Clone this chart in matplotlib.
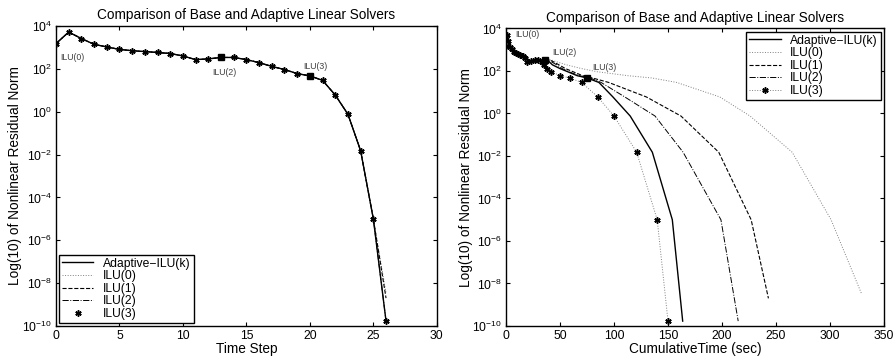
import matplotlib
matplotlib.use('Agg')
import matplotlib.pyplot as plt
from matplotlib.ticker import LogLocator, NullLocator

plt.rcParams['font.family'] = ['Liberation Sans', 'DejaVu Sans']
plt.rcParams['mathtext.default'] = 'regular'

# residual norm at each time step (shared by all solvers until the last step)
steps = list(range(27))
resid = [1500, 5200, 2600, 1400, 1050, 810, 700, 640, 580, 520, 400, 270, 290,
         340, 340, 270, 195, 130, 93, 60, 47, 29, 6, 0.76, 0.015, 1e-5]
final_adaptive = 1.7e-10
final_ilu0 = 3.5e-9
final_ilu1 = 2e-9
final_ilu2 = 1.7e-10
final_ilu3 = 1.7e-10

# cumulative time (sec) per time step
time_adaptive = [0, 1, 2.2, 3.7, 5.9, 8.3, 10.5, 13, 15, 17.6, 19.8, 22, 28.4, 36,
                 38, 40, 43, 50, 57, 66, 75, 86, 99, 115, 135.5, 154, 163.6]
time_ilu0 = [0, 1, 2.2, 3.7, 5.9, 8.3, 10.5, 13, 15, 17.6, 19.8, 22, 28.4, 36,
             41, 47, 56, 70, 84, 113, 135, 158, 198, 226, 265, 301, 329]
time_ilu1 = [0, 1, 2.3, 3.9, 6.1, 8.5, 10.8, 13.3, 15.5, 18, 20.5, 23, 29, 36,
             40, 44, 49, 55, 62, 71, 80, 95, 130, 162, 197, 227, 243]
time_ilu2 = [0, 1, 2.3, 3.8, 6.0, 8.2, 10.4, 12.8, 15, 17.2, 19.5, 21.5, 27.5, 34,
             38, 42, 47, 52, 58, 68, 78, 88, 110, 138, 164, 199, 215]
time_ilu3 = [0, 0.9, 2.0, 3.4, 5.3, 7.3, 9.3, 11.4, 13.3, 15.3, 17.2, 19, 23, 27,
             30, 33, 35.5, 38, 42, 50, 59, 70, 85, 100, 121, 140, 150]

# steps where the adaptive solver switches preconditioner
switch_steps = [13, 20]
switch_labels = ['ILU(2)', 'ILU(3)']

y_adaptive = resid + [final_adaptive]
y_ilu0 = resid + [final_ilu0]
y_ilu1 = resid + [final_ilu1]
y_ilu2 = resid + [final_ilu2]
y_ilu3 = resid + [final_ilu3]

TITLE = 'Comparison of Base and Adaptive Linear Solvers'
YLABEL = 'Log(10) of Nonlinear Residual Norm'
LABELS = ['Adaptive\u2212ILU(k)', 'ILU(0)', 'ILU(1)', 'ILU(2)', 'ILU(3)']
STAR = (6, 2, 0)  # matlab-like asterisk


def style_axes(ax, xmax, xstep):
    ax.set_yscale('log')
    ax.set_ylim(1e-10, 1e4)
    ax.set_xlim(0, xmax)
    ax.set_xticks(range(0, xmax + 1, xstep))
    ax.yaxis.set_major_locator(LogLocator(base=100.0, numticks=20))
    ax.yaxis.set_minor_locator(NullLocator())
    ax.tick_params(direction='in', top=True, right=True, labelsize=8.7,
                   length=3, width=0.8, pad=3)
    for s in ax.spines.values():
        s.set_linewidth(1.0)
    ax.set_title(TITLE, fontsize=9.8, pad=5)
    ax.set_ylabel(YLABEL, fontsize=9.8)
    ax.yaxis.set_label_coords(-0.088, 0.5)


def add_legend(ax, loc):
    h, l = ax.get_legend_handles_labels()
    order = [4, 0, 1, 2, 3]
    leg = ax.legend([h[i] for i in order], [l[i] for i in order], loc=loc,
                    fontsize=8.7, fancybox=False, edgecolor='black', framealpha=1,
                    handlelength=2.6, borderpad=0.25, labelspacing=0.05,
                    borderaxespad=0.25, handletextpad=0.8)
    leg.get_frame().set_linewidth(1.0)


fig = plt.figure(figsize=(8.94, 3.58), dpi=100)
ax1 = fig.add_axes([0.0626, 0.0894, 0.426, 0.838])
ax2 = fig.add_axes([0.566, 0.0894, 0.4228, 0.831])

# left: by time step
ax1.plot(steps, y_ilu0, ls=':', color='0.5', lw=0.7, label=LABELS[1])
ax1.plot(steps, y_ilu1, ls='--', color='black', lw=0.8, label=LABELS[2])
ax1.plot(steps, y_ilu2, ls='-.', color='black', lw=0.7, label=LABELS[3])
ax1.plot(steps, y_ilu3, ls='none', marker=STAR, color='black', ms=4.5, mew=1.1,
         label=LABELS[4])
ax1.plot(steps, y_adaptive, ls='-', color='black', lw=1.0, label=LABELS[0])
ax1.plot([steps[i] for i in switch_steps], [y_adaptive[i] for i in switch_steps],
         ls='none', marker='s', color='black', ms=5)
style_axes(ax1, 30, 5)
ax1.set_xlabel('Time Step', fontsize=9.8, labelpad=0)
ax1.text(0.35, 350, 'ILU(0)', fontsize=6.3, color='0.25', va='center')
ax1.text(13.3, 70, switch_labels[0], fontsize=6.3, color='0.25', ha='center', va='center')
ax1.text(20.4, 130, switch_labels[1], fontsize=6.3, color='0.25', ha='center', va='center')
add_legend(ax1, 'lower left')

# right: by cumulative time
ax2.plot(time_ilu0, y_ilu0, ls=':', color='0.5', lw=0.7, label=LABELS[1])
ax2.plot(time_ilu1, y_ilu1, ls='--', color='black', lw=0.8, label=LABELS[2])
ax2.plot(time_ilu2, y_ilu2, ls='-.', color='black', lw=0.7, label=LABELS[3])
ax2.plot(time_ilu3, y_ilu3, ls=':', color='0.5', lw=0.7, marker=STAR,
         mec='black', mfc='black', ms=4.5, mew=1.1, label=LABELS[4])
ax2.plot(time_adaptive, y_adaptive, ls='-', color='black', lw=1.0, label=LABELS[0])
ax2.plot([time_adaptive[i] for i in switch_steps], [y_adaptive[i] for i in switch_steps],
         ls='none', marker='s', color='black', ms=5)
style_axes(ax2, 350, 50)
ax2.set_xlabel('CumulativeTime (sec)', fontsize=9.8, labelpad=0)
ax2.text(8.3, 5000, 'ILU(0)', fontsize=6.3, color='0.25', va='center')
ax2.text(43, 730, switch_labels[0], fontsize=6.3, color='0.25', va='center')
ax2.text(80, 145, switch_labels[1], fontsize=6.3, color='0.25', va='center')
add_legend(ax2, 'upper right')

fig.savefig('out.png', dpi=100)
